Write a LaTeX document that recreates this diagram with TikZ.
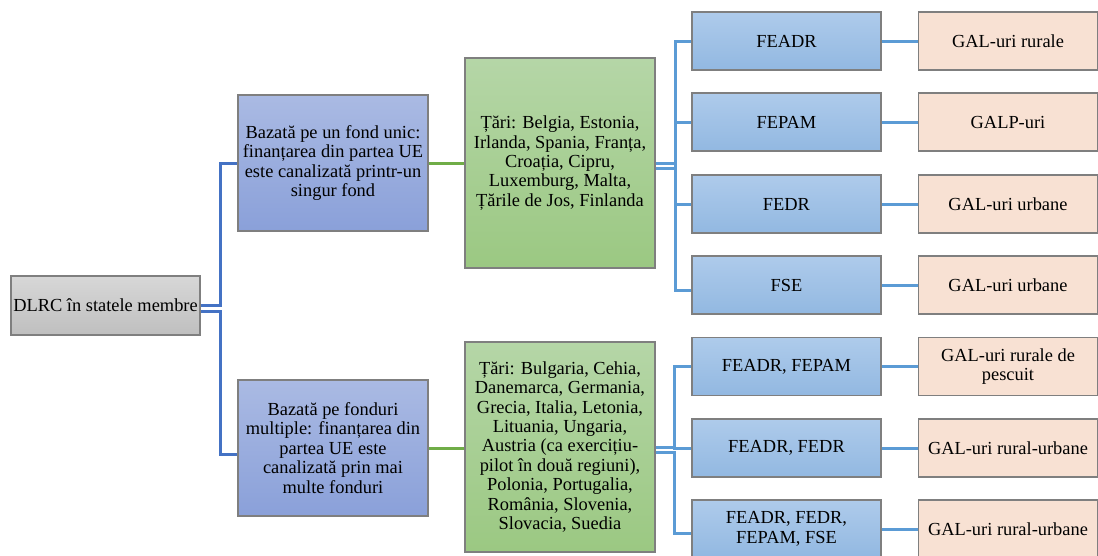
\documentclass[tikz,border=0pt]{standalone}
\usepackage{fontspec}
\setmainfont{Liberation Serif}
\definecolor{boxline}{HTML}{7F7F7F}
\definecolor{graytop}{HTML}{D7D7D7}
\definecolor{graybot}{HTML}{BFBFBF}
\definecolor{lvltop}{HTML}{AABAE3}
\definecolor{lvlbot}{HTML}{8AA0D9}
\definecolor{tartop}{HTML}{B5D6A7}
\definecolor{tarbot}{HTML}{9BC882}
\definecolor{fondtop}{HTML}{AECBEB}
\definecolor{fondbot}{HTML}{92B8E1}
\definecolor{galfill}{HTML}{F8E1D3}
\definecolor{rootlinkc}{HTML}{4472C4}
\definecolor{greenlinkc}{HTML}{70AD47}
\definecolor{fondlinkc}{HTML}{5B9BD5}
\begin{document}
\begin{tikzpicture}[x=1pt,y=-1pt,line cap=butt,line join=miter,
	box/.style={draw=boxline,line width=1.4pt,align=center,inner sep=2pt,font=\fontsize{18.4}{19.4}\selectfont},
	rootbox/.style={box,top color=graytop,bottom color=graybot,minimum width=189pt,minimum height=59pt},
	lvlbox/.style={box,top color=lvltop,bottom color=lvlbot,minimum width=190pt,minimum height=136pt},
	tarbox/.style={box,top color=tartop,bottom color=tarbot,minimum width=190pt,minimum height=210pt},
	fondbox/.style={box,top color=fondtop,bottom color=fondbot,minimum width=189pt,minimum height=58pt},
	galbox/.style={box,fill=galfill,minimum width=179pt,minimum height=58pt},
	rootlink/.style={draw=rootlinkc,line width=3pt},
	greenlink/.style={draw=greenlinkc,line width=3pt},
	fondlink/.style={draw=fondlinkc,line width=3pt}]
	\useasboundingbox (0,0) rectangle (1098,555);
	\node (root) at (105.5,305.5) [rootbox]{DLRC în statele membre};
	\node (unic) at (333,163) [lvlbox]{Bazată pe un fond unic:\\finanțarea din partea UE\\este canalizată printr-un\\singur fond};
	\node (multi) at (333,448) [lvlbox]{Bazată pe fonduri\\multiple: finanțarea din\\partea UE este\\canalizată prin mai\\multe fonduri};
	\node (tari1) at (560,163) [tarbox]{Țări: Belgia, Estonia,\\Irlanda, Spania, Franța,\\Croația, Cipru,\\Luxemburg, Malta,\\Țările de Jos, Finlanda};
	\node (tari2) at (560,447) [tarbox]{Țări: Bulgaria, Cehia,\\Danemarca, Germania,\\Grecia, Italia, Letonia,\\Lituania, Ungaria,\\Austria (ca exercițiu-\\pilot în două regiuni),\\Polonia, Portugalia,\\România, Slovenia,\\Slovacia, Suedia};
	\node (feadr) at (786.5,41) [fondbox]{FEADR};
	\node (fepam) at (786.5,122) [fondbox]{FEPAM};
	\node (fedr) at (786.5,204) [fondbox]{FEDR};
	\node (fse) at (786.5,285) [fondbox]{FSE};
	\node (feadrfepam) at (786.5,366.5) [fondbox]{FEADR, FEPAM};
	\node (feadrfedr) at (786.5,448) [fondbox]{FEADR, FEDR};
	\node (toate) at (786.5,529) [fondbox]{FEADR, FEDR,\\FEPAM, FSE};
	\node (galrur) at (1008,41) [galbox]{GAL-uri rurale};
	\node (galp) at (1008,122) [galbox]{GALP-uri};
	\node (galurb1) at (1008,204) [galbox]{GAL-uri urbane};
	\node (galurb2) at (1008,285) [galbox]{GAL-uri urbane};
	\node (galpesc) at (1008,366.5) [galbox]{GAL-uri rurale de\\pescuit};
	\node (galru1) at (1008,448) [galbox]{GAL-uri rural-urbane};
	\node (galru2) at (1008,529) [galbox]{GAL-uri rural-urbane};
	\draw[rootlink] (root.east) -- ++(20,0) |- (unic.west);
	\draw[rootlink] ([yshift=-6pt]root.east) -- ++(20,0) |- ([yshift=-6pt]multi.west);
	\draw[greenlink] (unic) -- (tari1);
	\draw[greenlink] (multi.east) -- (multi.east -| tari2.west);
	\draw[fondlink] (tari1.east) -- ++(20,0) |- (feadr.west);
	\draw[fondlink] (tari1.east) -- ++(20,0) |- (fepam.west);
	\draw[fondlink] (tari1.east) -- ++(20,0) |- (fedr.west);
	\draw[fondlink] ([yshift=-5pt]tari1.east) -- ++(20,0) |- ([yshift=-5pt]fse.west);
	\draw[fondlink] (tari2.east) -- ++(19,0) |- (feadrfepam.west);
	\draw[fondlink] (tari2.east) -- ++(19,0) |- (feadrfedr.west);
	\draw[fondlink] ([yshift=-5pt]tari2.east) -- ++(19,0) |- ([yshift=-4pt]toate.west);
	\draw[fondlink] (feadr) -- (galrur);
	\draw[fondlink] (fepam) -- (galp);
	\draw[fondlink] (fedr) -- (galurb1);
	\draw[fondlink] (fse) -- (galurb2);
	\draw[fondlink] (feadrfepam) -- (galpesc);
	\draw[fondlink] (feadrfedr) -- (galru1);
	\draw[fondlink] (toate) -- (galru2);
\end{tikzpicture}
\end{document}
